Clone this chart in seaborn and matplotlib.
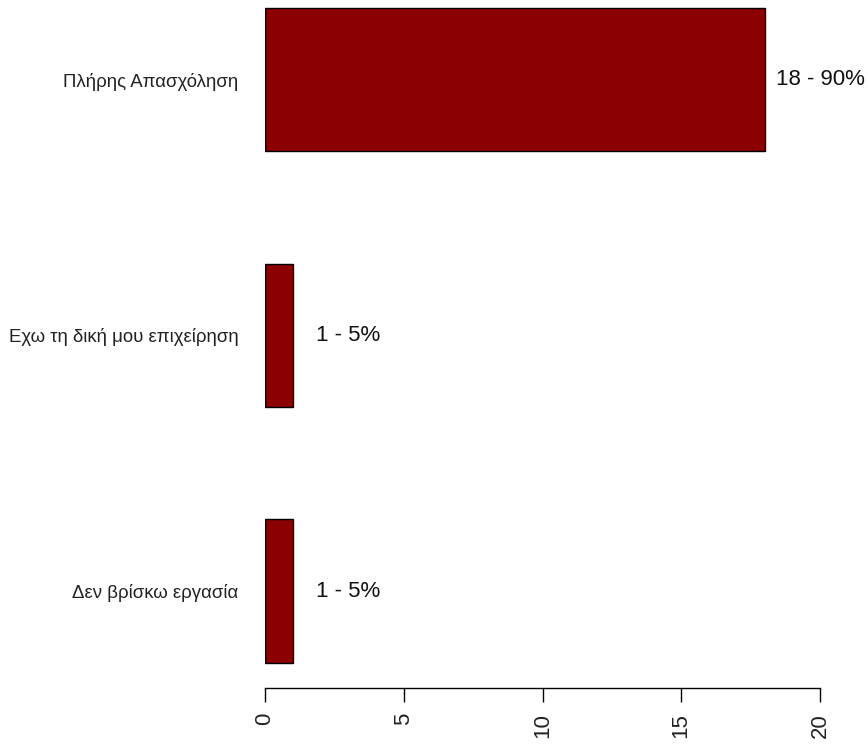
import pandas as pd
import seaborn as sns
import matplotlib
matplotlib.use("Agg")
import matplotlib.pyplot as plt

# data
categories = ["Πλήρης Απασχόληση", "Εχω τη δική μου επιχείρηση", "Δεν βρίσκω εργασία"]
counts = [18, 1, 1]
value_labels = ["18 - 90%", "1 - 5%", "1 - 5%"]
x_ticks = [0, 5, 10, 15, 20]

df = pd.DataFrame({"category": categories, "count": counts})

sns.set_style("white")
plt.rcParams["font.family"] = ["Liberation Sans", "DejaVu Sans"]

fig = plt.figure(figsize=(8.68, 7.45), dpi=100)
ax = fig.add_axes([265 / 868, 57 / 745, 555 / 868, 688 / 745])

sns.barplot(data=df, x="count", y="category", order=categories, orient="h",
            color="#8B0000", saturation=1, width=0.56,
            edgecolor="black", linewidth=1, ax=ax)

# value labels centred a bit to the right of each bar
for i, (v, lab) in enumerate(zip(counts, value_labels)):
    ax.text(v + 2, i, lab, ha="center", va="center", fontsize=16,
            color="#111111", clip_on=False)

ax.set_xlim(0, 20)
ax.set_ylim(2.379, -0.311)
ax.set_xticks(x_ticks)
ax.set_xticklabels([str(t) for t in x_ticks], rotation=90, fontsize=16)
ax.tick_params(axis="x", bottom=True, length=10, width=1, pad=8,
               colors="black", labelcolor="#222222")
ax.tick_params(axis="y", left=False, length=0, pad=19, labelsize=13.4, labelcolor="#222222")
ax.set_xlabel("")
ax.set_ylabel("")
for s in ["top", "right", "left"]:
    ax.spines[s].set_visible(False)
ax.spines["bottom"].set_color("black")
ax.spines["bottom"].set_linewidth(1)

fig.savefig("out.png", dpi=100)
